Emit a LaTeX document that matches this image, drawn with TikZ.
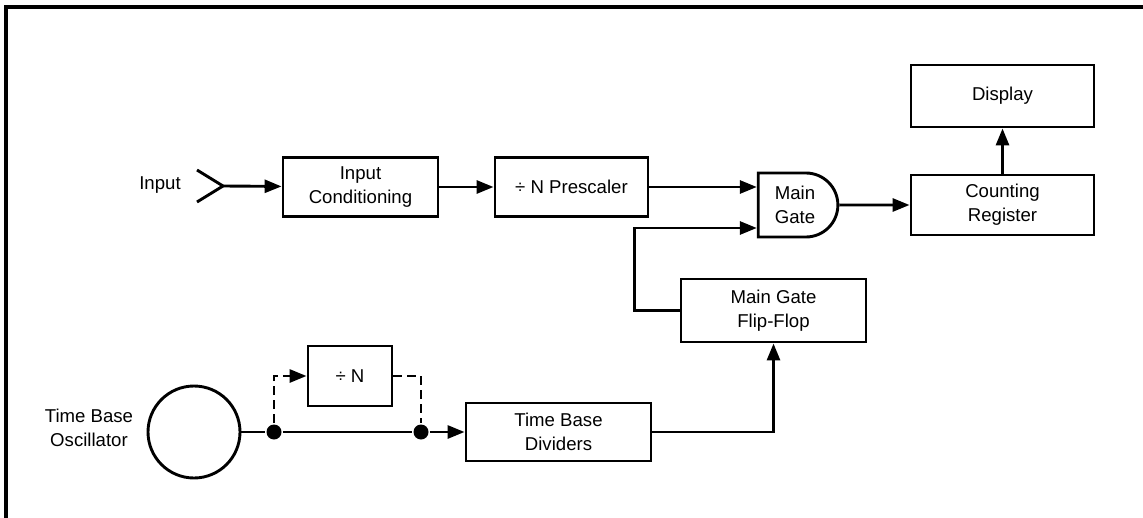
\documentclass[tikz,border=0pt]{standalone}
\usepackage{fontspec}
\setmainfont{Liberation Sans}
\usepackage{tikz}
\usetikzlibrary{
  positioning, calc,
  shapes.misc,
  arrows.meta
}

\begin{document}
\begin{tikzpicture}
    [x=0.5pt,y=-0.5pt,
     line width=1.45pt,
     >={Triangle[length=8.5pt,width=6.5pt]},
     font=\fontsize{9.3}{12}\selectfont,
     block/.style={rectangle,draw,align=center,inner sep=1mm},
     gatebox/.style={rounded rectangle,rounded rectangle left arc=none,draw,
                     align=center,minimum width=45.5pt,minimum height=32pt,inner sep=1mm},
     junction/.style={circle,fill,inner sep=0pt,minimum size=7.5pt},
     txt/.style={align=center,inner sep=0pt}]
    \useasboundingbox (0,0) rectangle (1143,518);
    % frame
    \draw[line width=1.6pt] (6,518) -- (6,7) -- (1143,7);

    % top row
    \node (IN) at (160,185) [txt] {Input};
    \coordinate (INTIP) at (223,186);
    \node (COND) at (360.5,187) [block,minimum width=77.5pt,minimum height=29.5pt] {Input\\Conditioning};
    \node (PRE) at (571.5,187) [block,minimum width=76.5pt,minimum height=29.5pt] {÷ N Prescaler};
    \node (GATE) at (795,205) [gatebox] {Main\\Gate};
    \node (COUNT) at (1002.5,205) [block,minimum width=91.5pt,minimum height=30pt] {Counting\\Register};
    \node (DISP) at (1002.5,96) [block,minimum width=91.5pt,minimum height=31pt] {Display};
    \node (FF) at (773.5,310.5) [block,minimum width=92.5pt,minimum height=31.5pt] {Main Gate\\Flip-Flop};

    % bottom row
    \node (OSCTXT) at (89,428) [txt] {Time Base\\Oscillator};
    \node (OSC) at (194,432) [circle,draw,minimum size=46pt,inner sep=0pt] {};
    \node (J1) at (274,432) [junction] {};
    \node (J2) at (421,432) [junction] {};
    \node (DIVN) at (350,376) [block,minimum width=42pt,minimum height=30pt] {÷ N};
    \node (DIVS) at (558.5,432) [block,minimum width=92.5pt,minimum height=29pt] {Time Base\\Dividers};

    % input connector
    \draw (INTIP) ++(-26,-16) -- (INTIP) -- ++(-26,16);
    \draw[->] (INTIP) -- (COND);
    \draw[->] (COND) -- (PRE);
    \draw[->] (PRE.east) -- (PRE.east -| GATE.west);
    \draw[->] (GATE) -- (COUNT);
    \draw[->] (COUNT) -- (DISP);
    \draw[->] (FF.west) -- ++(-45,0) |- ($(GATE.west)+(0,23)$);

    % time base chain
    \draw (OSC) -- (J1) -- (J2);
    \draw[->] (J2) -- (DIVS);
    \draw[->,dash pattern=on 4.5pt off 2.5pt] (J1) |- (DIVN.west);
    \draw[dash pattern=on 4.5pt off 2.5pt] (DIVN.east) -| (J2);
    \draw[->] (DIVS.east) -| (FF.south);
    \end{tikzpicture}
\end{document}
